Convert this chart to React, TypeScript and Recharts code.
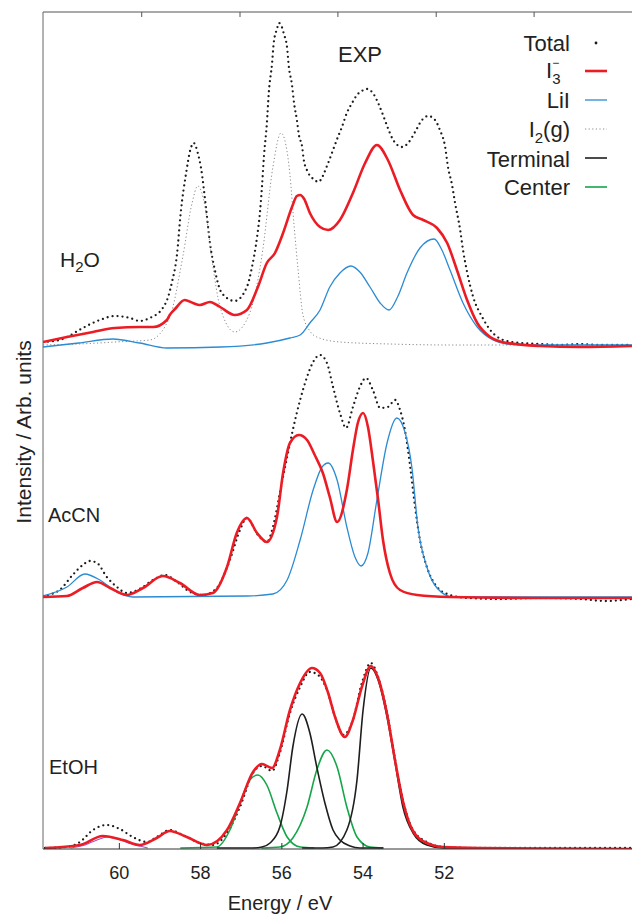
import { ComposedChart, Line, XAxis, YAxis } from 'recharts';

/**
 * Stacked photoelectron spectra (H2O / AcCN / EtOH) with fitted components.
 * Intensities in arbitrary units; each solvent
 * panel sits on its own baseline offset in a shared y-scale.
 */

type Pt = [number, number]; // [energy eV, intensity]

const BOTTOM_TICKS = [60, 58, 56, 54, 52];
const TOP_TICKS = [59.45, 57.03, 54.62, 52.2, 49.79];
const X_DOMAIN: [number, number] = [47.38, 61.88];
const Y_DOMAIN: [number, number] = [0, 837];

// baseline of each panel
const OFF_H2O = 504;
const OFF_ACN = 252;
const OFF_ETOH = 1;

// ---- H2O ----
const H2O_TOTAL: Pt[] = [
  [61.88, 3], [61.47, 5], [61.29, 8], [60.9, 17], [60.48, 25], [60.11, 29], [59.74, 27], [59.5, 24],
  [59.25, 27], [58.93, 37], [58.8, 48], [58.71, 62], [58.58, 91], [58.49, 132], [58.36, 171], [58.24, 197],
  [58.17, 202], [58.07, 192], [57.99, 177], [57.87, 138], [57.77, 102], [57.65, 75], [57.48, 52], [57.16, 44],
  [56.86, 58], [56.74, 77], [56.61, 108], [56.54, 132], [56.49, 158], [56.44, 189], [56.37, 221], [56.32, 253],
  [56.24, 282], [56.2, 302], [56.12, 316], [56.07, 322], [56.0, 318], [55.95, 311], [55.87, 297], [55.83, 279],
  [55.75, 260], [55.7, 242], [55.63, 225], [55.58, 210], [55.5, 198], [55.46, 185], [55.36, 173], [55.19, 165],
  [55.11, 163], [54.86, 182], [54.74, 195], [54.62, 208], [54.52, 218], [54.4, 232], [54.27, 242], [54.15, 250],
  [54.03, 254], [53.91, 256], [53.76, 252], [53.63, 242], [53.51, 230], [53.39, 217], [53.26, 205], [53.04, 198],
  [52.89, 202], [52.72, 213], [52.55, 225], [52.4, 229], [52.23, 225], [52.11, 215], [51.98, 198], [51.91, 178],
  [51.81, 160], [51.74, 143], [51.61, 115], [51.54, 95], [51.44, 73], [51.29, 48], [51.07, 28], [50.87, 15],
  [50.55, 5], [50.14, 2], [49.64, 1], [49.15, 0], [48.66, 1], [48.17, 0], [47.38, 0],
];
const H2O_I3: Pt[] = [
  [61.88, 3], [61.29, 8], [60.65, 13], [60.11, 17], [59.5, 18], [59.17, 18], [58.83, 25], [58.76, 30],
  [58.63, 36], [58.39, 45], [58.19, 42], [58.02, 40], [57.77, 43], [57.6, 40], [57.48, 37], [57.16, 30],
  [56.86, 35], [56.59, 58], [56.37, 82], [56.17, 92], [55.97, 112], [55.75, 138], [55.63, 149], [55.55, 150],
  [55.45, 146], [55.31, 132], [55.06, 118], [54.86, 115], [54.57, 125], [54.25, 152], [53.95, 182], [53.66, 200],
  [53.39, 185], [53.09, 155], [52.77, 130], [52.52, 125], [52.18, 117], [51.93, 102], [51.69, 75], [51.44, 45],
  [51.19, 22], [50.87, 8], [50.46, 2], [49.64, -1], [48.66, -2], [47.38, -1],
];
const H2O_LII: Pt[] = [
  [61.88, -2], [61.0, 2], [60.16, 6], [59.5, 2], [58.83, -3], [57.5, -2], [56.37, 2], [55.8, 7],
  [55.55, 10], [55.31, 22], [55.06, 35], [54.82, 58], [54.57, 72], [54.3, 79], [54.08, 73], [53.83, 58],
  [53.58, 42], [53.36, 35], [53.14, 49], [52.92, 72], [52.6, 97], [52.25, 106], [52.06, 95], [51.86, 75],
  [51.54, 42], [51.19, 18], [50.8, 5], [50.46, 1], [49.64, 0], [47.38, 0],
];
const H2O_I2G: Pt[] = [
  [61.88, 0], [60.5, 2], [60.11, 3], [59.25, 5], [58.76, 28], [58.44, 88], [58.21, 142], [58.07, 159],
  [57.89, 138], [57.72, 85], [57.52, 38], [57.16, 13], [56.79, 32], [56.47, 95], [56.22, 178], [56.02, 212],
  [55.9, 200], [55.8, 170], [55.7, 120], [55.6, 75], [55.48, 30], [55.31, 14], [55.14, 8], [54.57, 3],
  [53.34, 1], [51.86, 0], [47.38, 0],
];

// ---- AcCN ----
const ACN_TOTAL: Pt[] = [
  [61.88, 1], [61.47, 7], [61.15, 22], [60.9, 32], [60.73, 36], [60.55, 34], [60.31, 20], [60.06, 10],
  [59.82, 4], [59.5, 8], [59.17, 17], [58.88, 22], [58.58, 15], [58.26, 5], [57.94, 2], [57.6, 9],
  [57.28, 37], [57.03, 67], [56.86, 79], [56.59, 62], [56.37, 55], [56.22, 70], [56.05, 104], [55.87, 140],
  [55.73, 167], [55.55, 197], [55.38, 220], [55.23, 235], [55.06, 242], [54.89, 234], [54.74, 210], [54.57, 184],
  [54.42, 169], [54.25, 190], [54.08, 210], [53.93, 219], [53.76, 207], [53.58, 189], [53.39, 190], [53.21, 197],
  [53.09, 187], [52.97, 167], [52.84, 130], [52.72, 90], [52.6, 57], [52.43, 30], [52.18, 10], [51.86, 2],
  [51.44, -1], [50.63, -2], [49.64, -1], [48.66, -2], [48.04, -4], [47.38, -2],
];
const ACN_I3: Pt[] = [
  [61.88, 0], [61.29, 1], [60.9, 9], [60.55, 15], [60.23, 9], [59.82, 2], [59.42, 9], [58.93, 21],
  [58.51, 14], [58.02, 2], [57.7, 4], [57.35, 30], [57.11, 64], [56.86, 79], [56.61, 64], [56.37, 55],
  [56.12, 80], [55.97, 124], [55.8, 154], [55.58, 162], [55.38, 157], [55.19, 142], [54.99, 124], [54.82, 100],
  [54.64, 75], [54.4, 107], [54.25, 147], [54.13, 174], [54.0, 184], [53.88, 170], [53.76, 137], [53.63, 97],
  [53.51, 57], [53.34, 24], [53.09, 7], [52.67, 2], [51.86, 0], [49.64, -1], [47.38, -1],
];
const ACN_LII: Pt[] = [
  [61.88, 1], [61.29, 10], [60.85, 23], [60.48, 17], [60.06, 5], [59.67, 0], [56.86, 1], [56.22, 3],
  [55.87, 17], [55.55, 57], [55.23, 107], [55.01, 130], [54.86, 134], [54.64, 117], [54.4, 70], [54.2, 40],
  [54.05, 31], [53.88, 44], [53.66, 97], [53.41, 154], [53.17, 179], [52.97, 165], [52.8, 130], [52.65, 70],
  [52.43, 30], [52.18, 9], [51.79, 0], [47.38, 0],
];

// ---- EtOH ----
const ETOH_TOTAL: Pt[] = [
  [61.83, 0], [61.29, 1], [60.97, 6], [60.65, 18], [60.31, 23], [59.99, 19], [59.67, 11], [59.32, 6],
  [59.08, 11], [58.76, 18], [58.44, 13], [58.02, 5], [57.7, 3], [57.35, 15], [57.03, 41], [56.71, 75],
  [56.49, 82], [56.24, 77], [56.05, 95], [55.8, 135], [55.55, 161], [55.31, 176], [55.11, 173], [54.89, 158],
  [54.69, 131], [54.49, 113], [54.25, 128], [54.03, 165], [53.81, 185], [53.63, 171], [53.41, 135], [53.21, 88],
  [53.02, 48], [52.77, 18], [52.43, 6], [52.03, 1], [51.12, 0], [47.38, 0],
];
const ETOH_I3: Pt[] = [
  [61.83, 0], [60.97, 3], [60.41, 12], [59.91, 8], [59.5, 3], [59.08, 10], [58.76, 17], [58.34, 11],
  [57.84, 3], [57.35, 18], [57.03, 45], [56.71, 76], [56.49, 84], [56.24, 80], [56.05, 98], [55.8, 138],
  [55.55, 165], [55.26, 180], [55.06, 175], [54.86, 155], [54.69, 131], [54.45, 111], [54.25, 128], [54.03, 161],
  [53.81, 182], [53.63, 170], [53.41, 134], [53.21, 87], [53.02, 47], [52.77, 17], [52.43, 5], [52.03, 1],
  [51.12, 0], [47.38, -1],
];
const ETOH_SAT: Pt[] = [
  [61.2, 0], [60.85, 3], [60.55, 8], [60.3, 11], [60.05, 9], [59.7, 4], [59.3, 0],
];
const ETOH_TERM_A: Pt[] = [
  [57.6, 0], [56.71, 0], [56.49, 1], [56.29, 5], [56.05, 21], [55.87, 58], [55.73, 101], [55.5, 134],
  [55.31, 115], [55.14, 81], [54.94, 45], [54.74, 18], [54.57, 8], [54.32, 2], [54.08, 0], [53.5, 0],
];
const ETOH_TERM_B: Pt[] = [
  [55.5, 0], [55.0, 0], [54.74, 1], [54.4, 18], [54.15, 68], [54.0, 138], [53.81, 180], [53.63, 168],
  [53.41, 131], [53.21, 85], [53.02, 41], [52.77, 15], [52.43, 3], [52.03, 0], [51.5, 0],
];
const ETOH_CENTER_A: Pt[] = [
  [58.5, 0], [57.6, 1], [57.28, 18], [57.03, 45], [56.79, 68], [56.59, 73], [56.37, 63], [56.12, 35],
  [55.87, 11], [55.55, 1], [55.2, 0],
];
const ETOH_CENTER_B: Pt[] = [
  [56.5, 0], [56.05, 1], [55.73, 10], [55.38, 41], [55.14, 78], [54.89, 98], [54.64, 81], [54.4, 41],
  [54.15, 11], [53.83, 1], [53.5, 0],
];

const FONT = '"Liberation Sans", Arial, Helvetica, sans-serif';
const INK = '#222';

const STYLE = {
  total: { stroke: '#1b1b1b', strokeWidth: 2.3, strokeDasharray: '0 5', strokeLinecap: 'round' as const },
  i2g: { stroke: '#8a8a8a', strokeWidth: 1, strokeDasharray: '1.2 2.4' },
  lii: { stroke: '#2b8bd3', strokeWidth: 1.3 },
  center: { stroke: '#16a64a', strokeWidth: 1.6 },
  terminal: { stroke: '#1e1e1e', strokeWidth: 1.6 },
  sat: { stroke: '#a552c4', strokeWidth: 1.1 },
  i3: { stroke: '#ec1c24', strokeWidth: 2.6 },
};

type Kind = keyof typeof STYLE;

// draw order: dots first, fit components, I3- on top
const SERIES: { id: string; pts: Pt[]; off: number; kind: Kind }[] = [
  { id: 'h2o-total', pts: H2O_TOTAL, off: OFF_H2O, kind: 'total' },
  { id: 'acn-total', pts: ACN_TOTAL, off: OFF_ACN, kind: 'total' },
  { id: 'etoh-total', pts: ETOH_TOTAL, off: OFF_ETOH, kind: 'total' },
  { id: 'h2o-i2g', pts: H2O_I2G, off: OFF_H2O, kind: 'i2g' },
  { id: 'h2o-lii', pts: H2O_LII, off: OFF_H2O, kind: 'lii' },
  { id: 'acn-lii', pts: ACN_LII, off: OFF_ACN, kind: 'lii' },
  { id: 'etoh-center-a', pts: ETOH_CENTER_A, off: OFF_ETOH, kind: 'center' },
  { id: 'etoh-center-b', pts: ETOH_CENTER_B, off: OFF_ETOH, kind: 'center' },
  { id: 'etoh-term-a', pts: ETOH_TERM_A, off: OFF_ETOH, kind: 'terminal' },
  { id: 'etoh-term-b', pts: ETOH_TERM_B, off: OFF_ETOH, kind: 'terminal' },
  { id: 'etoh-sat', pts: ETOH_SAT, off: OFF_ETOH, kind: 'sat' },
  { id: 'h2o-i3', pts: H2O_I3, off: OFF_H2O, kind: 'i3' },
  { id: 'acn-i3', pts: ACN_I3, off: OFF_ACN, kind: 'i3' },
  { id: 'etoh-i3', pts: ETOH_I3, off: OFF_ETOH, kind: 'i3' },
];

function toRows(pts: Pt[], off: number) {
  return pts.map(([e, i]) => ({ e, v: i + off }));
}

// top frame ticks carry no label
const NoLabel = () => <g />;

function Annotations() {
  const txt = { fontFamily: FONT, fill: INK } as const;
  return (
    <svg
      width={632}
      height={918}
      style={{ position: 'absolute', left: 0, top: 0, pointerEvents: 'none' }}
    >
      {/* legend */}
      <g {...txt} fontSize={22}>
        <text x={570} y={51} textAnchor="end">Total</text>
        <circle cx={596} cy={43} r={1.4} fill={STYLE.total.stroke} />

        <text x={546} y={78}>
          I<tspan fontSize={15} dy={6}>3</tspan>
          <tspan fontSize={12} dx={-8.3} dy={-17}>−</tspan>
        </text>
        <line x1={585} x2={607} y1={71} y2={71} {...STYLE.i3} />

        <text x={570} y={108} textAnchor="end">LiI</text>
        <line x1={585} x2={607} y1={100} y2={100} {...STYLE.lii} />

        <text x={570} y={137} textAnchor="end">
          I<tspan fontSize={15} dy={6}>2</tspan><tspan dy={-6}>(g)</tspan>
        </text>
        <line x1={585} x2={607} y1={129} y2={129} {...STYLE.i2g} />

        <text x={570} y={167} textAnchor="end">Terminal</text>
        <line x1={585} x2={607} y1={158} y2={158} {...STYLE.terminal} />

        <text x={570} y={195} textAnchor="end">Center</text>
        <line x1={585} x2={607} y1={187} y2={187} {...STYLE.center} />
      </g>

      <text x={338} y={62} fontSize={22} {...txt}>EXP</text>

      {/* panel names */}
      <text x={60} y={267} fontSize={21} {...txt}>
        H<tspan fontSize={15} dy={5}>2</tspan><tspan dy={-5}>O</tspan>
      </text>
      <text x={48} y={522} fontSize={20} {...txt}>AcCN</text>
      <text x={49} y={774} fontSize={20} {...txt}>EtOH</text>

      {/* axis titles */}
      <text
        x={31}
        y={432}
        fontSize={21}
        textAnchor="middle"
        transform="rotate(-90 31 432)"
        {...txt}
      >
        Intensity / Arb. units
      </text>
      <text x={280} y={910} fontSize={20} textAnchor="middle" {...txt}>
        Energy / eV
      </text>
    </svg>
  );
}

export default function App() {
  return (
    <div style={{ position: 'absolute', left: 0, top: 0, width: 632, height: 918, background: '#fff' }}>
      <ComposedChart width={632} height={918} margin={{ top: 11, right: 0, bottom: 0, left: 42 }}>
        <XAxis
          xAxisId="b"
          type="number"
          dataKey="e"
          domain={X_DOMAIN}
          reversed
          allowDataOverflow
          ticks={BOTTOM_TICKS}
          interval={0}
          height={69}
          tickSize={-6}
          tickMargin={23}
          axisLine={{ stroke: '#333' }}
          tickLine={{ stroke: '#333' }}
          tick={{ fontSize: 18, fill: INK, fontFamily: FONT }}
        />
        <XAxis
          xAxisId="t"
          orientation="top"
          type="number"
          dataKey="e"
          domain={X_DOMAIN}
          reversed
          allowDataOverflow
          ticks={TOP_TICKS}
          interval={0}
          height={1}
          tickSize={-5}
          tick={NoLabel}
          axisLine={{ stroke: '#555' }}
          tickLine={{ stroke: '#555' }}
        />
        <YAxis
          type="number"
          domain={Y_DOMAIN}
          allowDataOverflow
          width={1}
          tick={false}
          tickLine={false}
          axisLine={{ stroke: '#666' }}
        />
        {SERIES.map((s) => (
          <Line
            key={s.id}
            xAxisId="b"
            data={toRows(s.pts, s.off)}
            dataKey="v"
            type="monotone"
            dot={false}
            activeDot={false}
            isAnimationActive={false}
            fill="none"
            {...STYLE[s.kind]}
          />
        ))}
      </ComposedChart>
      <Annotations />
    </div>
  );
}
